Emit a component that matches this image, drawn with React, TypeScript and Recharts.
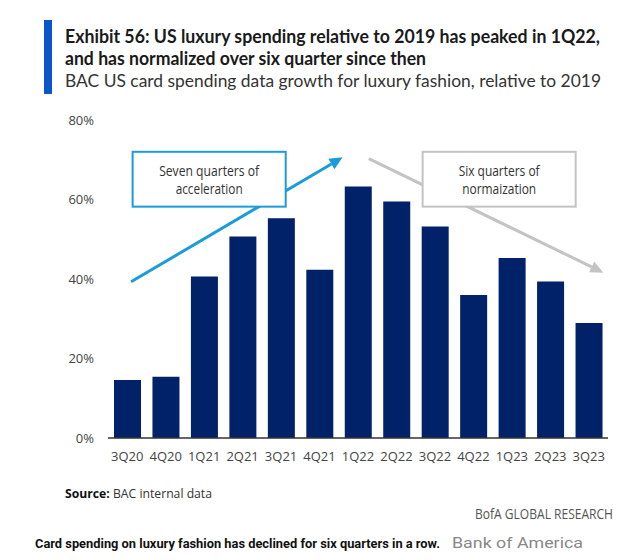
import { BarChart, Bar, XAxis, YAxis, ReferenceLine, ReferenceArea } from 'recharts'

// BAC card spending growth for luxury fashion vs 2019 (%)
const quarters = ['3Q20', '4Q20', '1Q21', '2Q21', '3Q21', '4Q21', '1Q22', '2Q22', '3Q22', '4Q22', '1Q23', '2Q23', '3Q23']
const growth = [14.6, 15.4, 40.6, 50.7, 55.3, 42.3, 63.3, 59.5, 53.2, 36.0, 45.3, 39.4, 28.9]
const yTicks = [0, 20, 40, 60, 80]

const chartData = quarters.map((q, i) => ({ quarter: q, value: growth[i] }))

// annotation anchors, in (category index, %) units
const accelArrow = [{ x: 0.1, y: 39.3 }, { x: 5.6, y: 70.6 }]
const normArrow = [{ x: 6.28, y: 70.3 }, { x: 12.38, y: 41.6 }]
const accelBox = { x1: 0.14, x2: 4.12, y1: 58.2, y2: 72.0 }
const normBox = { x1: 7.68, x2: 11.66, y1: 58.2, y2: 72.0 }

const BAR = '#012169'
const BLUE = '#1b9bd9'
const GREY = '#c3c3c3'
const SANS = '"Open Sans", sans-serif'
const TITLE = 'Lato, "Open Sans", sans-serif'

function Arrow(props: any) {
  const { x1, y1, x2, y2, color } = props
  const ang = Math.atan2(y2 - y1, x2 - x1)
  const len = 13
  const half = 6
  const bx = x2 - len * Math.cos(ang)
  const by = y2 - len * Math.sin(ang)
  const px = -Math.sin(ang) * half
  const py = Math.cos(ang) * half
  return (
    <g>
      <line x1={x1} y1={y1} x2={bx} y2={by} stroke={color} strokeWidth={3} />
      <polygon points={`${x2},${y2} ${bx + px},${by + py} ${bx - px},${by - py}`} fill={color} />
    </g>
  )
}

function NoteBox(props: any) {
  const { x, y, width, height, color, lines, widths } = props
  const cx = x + width / 2
  const cy = y + height / 2
  return (
    <g>
      <rect x={x} y={y} width={width} height={height} fill="#fff" stroke={color} strokeWidth={2} />
      {lines.map((t: string, i: number) => (
        <text
          key={t}
          x={cx}
          y={cy + (i - (lines.length - 1) / 2) * 18}
          textAnchor="middle"
          dominantBaseline="central"
          fontFamily={SANS}
          fontSize={14}
          fill="#333"
          textLength={widths[i]}
          lengthAdjust="spacingAndGlyphs"
        >
          {t}
        </text>
      ))}
    </g>
  )
}

export default function App() {
  return (
    <div style={{ position: 'absolute', left: 0, top: 0, width: 640, height: 560, background: '#fff' }}>
      <div style={{ position: 'absolute', left: 44, top: 20, width: 8, height: 74, background: '#0b55c9' }} />
      <svg width={640} height={100} style={{ position: 'absolute', left: 0, top: 0 }}>
        <g fontFamily={TITLE} fontSize={18}>
          <text x={65} y={43} fontWeight={700} fill="#1a1a1a" textLength={535} lengthAdjust="spacingAndGlyphs">
            Exhibit 56: US luxury spending relative to 2019 has peaked in 1Q22,
          </text>
          <text x={65} y={65} fontWeight={700} fill="#1a1a1a" textLength={361} lengthAdjust="spacingAndGlyphs">
            and has normalized over six quarter since then
          </text>
          <text x={65} y={87} fill="#333" textLength={536} lengthAdjust="spacingAndGlyphs">
            BAC US card spending data growth for luxury fashion, relative to 2019
          </text>
        </g>
      </svg>

      <div style={{ position: 'absolute', left: 0, top: 0 }}>
        <BarChart width={640} height={470} data={chartData} margin={{ top: 120, right: 32, bottom: 2, left: 0 }}>
          <XAxis
            dataKey="quarter"
            tickLine={false}
            tickMargin={8}
            axisLine={{ stroke: '#333', strokeWidth: 1.5 }}
            tick={{ fill: '#444', fontSize: 13, fontFamily: SANS }}
            interval={0}
            height={30}
          />
          <XAxis
            xAxisId="ann"
            type="number"
            domain={[0, 12]}
            padding={{ left: 19.23, right: 19.23 }}
            hide
            allowDataOverflow
          />
          <YAxis
            width={108}
            domain={[0, 80]}
            ticks={yTicks}
            tickFormatter={(v: number) => `${v}%`}
            axisLine={false}
            tickLine={false}
            tickMargin={8}
            tick={{ fill: '#444', fontSize: 13, fontFamily: SANS }}
          />
          <Bar dataKey="value" fill={BAR} barSize={27} isAnimationActive={false} />
          <ReferenceLine
            xAxisId="ann"
            segment={accelArrow}
            zIndex={450}
            ifOverflow="visible"
            shape={(p: any) => <Arrow {...p} color={BLUE} />}
          />
          <ReferenceLine
            xAxisId="ann"
            segment={normArrow}
            zIndex={450}
            ifOverflow="visible"
            shape={(p: any) => <Arrow {...p} color={GREY} />}
          />
          <ReferenceArea
            xAxisId="ann"
            {...accelBox}
            zIndex={500}
            shape={(p: any) => (
              <NoteBox {...p} color={BLUE} lines={['Seven quarters of', 'acceleration']} widths={[100, 67]} />
            )}
          />
          <ReferenceArea
            xAxisId="ann"
            {...normBox}
            zIndex={500}
            shape={(p: any) => (
              <NoteBox {...p} color={GREY} lines={['Six quarters of', 'normaization']} widths={[81, 74]} />
            )}
          />
        </BarChart>
      </div>

      <svg width={640} height={90} style={{ position: 'absolute', left: 0, top: 470 }}>
        <text x={65} y={28} fontFamily={SANS} fontSize={13} fill="#333" textLength={147} lengthAdjust="spacingAndGlyphs">
          <tspan fontWeight={700} fill="#111">Source:</tspan>
          <tspan>  BAC internal data</tspan>
        </text>
        <text
          x={613}
          y={49}
          textAnchor="end"
          fontFamily={SANS}
          fontSize={14}
          fill="#555"
          textLength={138}
          lengthAdjust="spacingAndGlyphs"
        >
          BofA GLOBAL RESEARCH
        </text>
        <text x={35} y={78} fontFamily="Roboto, sans-serif" fontSize={13} fontWeight={700} fill="#111" textLength={405} lengthAdjust="spacingAndGlyphs">
          Card spending on luxury fashion has declined for six quarters in a row.
        </text>
        <text x={452} y={78} fontFamily="Roboto, sans-serif" fontSize={14} fill="#888" textLength={131} lengthAdjust="spacingAndGlyphs">
          Bank of America
        </text>
      </svg>
    </div>
  )
}
